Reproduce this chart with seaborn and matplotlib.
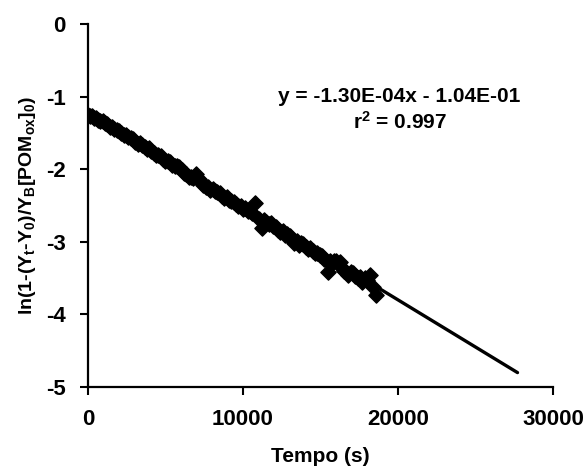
import matplotlib
matplotlib.use("Agg")
import matplotlib.pyplot as plt
import numpy as np
import pandas as pd
import seaborn as sns

# Kinetic data: time (s) vs ln(1-(Yt-Y0)/YB[POMox]0)
tempo = [0, 120, 250, 380, 500, 650, 800, 950, 1100, 1250, 1400, 1550,
         1700, 1850, 2000, 2150, 2300, 2450, 2600, 2750, 2900, 3050, 3200,
         3350, 3500, 3650, 3800, 3950, 4100, 4250, 4400, 4550, 4700, 4850,
         5000, 5150, 5300, 5450, 5600, 5750, 5900, 6050, 6200, 6350, 6500,
         6650, 6800, 7000, 7150, 7300, 7450, 7600, 7750, 7900, 8050, 8200,
         8350, 8500, 8650, 8800, 8950, 9100, 9250, 9400, 9550, 9700, 9850,
         10000, 10150, 10300, 10450, 10600, 10750, 11000, 11200, 11350,
         11500, 11650, 11800, 11950, 12100, 12250, 12400, 12550, 12700,
         12850, 13000, 13150, 13300, 13450, 13600, 13750, 13900, 14050,
         14200, 14350, 14500, 14650, 14800, 14950, 15100, 15250, 15450,
         15600, 15700, 15850, 16000, 16230, 16350, 16500, 16650, 16800,
         16950, 17100, 17250, 17400, 17550, 17700, 17850, 18000, 18160,
         18400, 18550]
ln_val = [-1.25, -1.26, -1.27, -1.29, -1.30, -1.32, -1.33, -1.34, -1.36,
          -1.38, -1.42, -1.42, -1.44, -1.46, -1.47, -1.50, -1.53, -1.53,
          -1.55, -1.57, -1.59, -1.62, -1.65, -1.64, -1.66, -1.69, -1.72,
          -1.71, -1.75, -1.78, -1.80, -1.80, -1.82, -1.86, -1.88, -1.88,
          -1.90, -1.94, -1.96, -1.95, -1.97, -2.01, -2.05, -2.07, -2.10,
          -2.10, -2.12, -2.06, -2.14, -2.17, -2.21, -2.25, -2.24, -2.28,
          -2.27, -2.30, -2.32, -2.33, -2.37, -2.40, -2.38, -2.42, -2.44,
          -2.45, -2.48, -2.50, -2.51, -2.55, -2.54, -2.58, -2.57, -2.60,
          -2.47, -2.68, -2.81, -2.70, -2.72, -2.76, -2.74, -2.78, -2.80,
          -2.83, -2.86, -2.85, -2.90, -2.89, -2.92, -2.96, -3.02, -2.99,
          -3.05, -3.02, -3.03, -3.07, -3.10, -3.09, -3.12, -3.15, -3.16,
          -3.18, -3.20, -3.24, -3.42, -3.27, -3.30, -3.26, -3.27, -3.28,
          -3.35, -3.40, -3.41, -3.45, -3.42, -3.43, -3.47, -3.50, -3.48,
          -3.55, -3.50, -3.52, -3.46, -3.62, -3.73]

# Linear trend line
slope = -1.30e-4
intercept = -1.20
fit_range = [0, 27700]
eq_text = "y = -1.30E-04x - 1.04E-01"
r2_text = r"r$^2$ = 0.997"

x_ticks = [0, 10000, 20000, 30000]
y_ticks = [0, -1, -2, -3, -4, -5]

sns.set_style("ticks")
plt.rcParams["font.family"] = ["Liberation Sans", "DejaVu Sans"]
plt.rcParams["font.weight"] = "bold"
plt.rcParams["text.color"] = "black"
plt.rcParams["axes.labelcolor"] = "black"
plt.rcParams["mathtext.fontset"] = "custom"
plt.rcParams["mathtext.rm"] = "Liberation Sans:bold"
plt.rcParams["mathtext.it"] = "Liberation Sans:bold"
plt.rcParams["mathtext.bf"] = "Liberation Sans:bold"

df = pd.DataFrame({"tempo": tempo, "ln": ln_val})
fit_x = np.array(fit_range, dtype=float)
fit_df = pd.DataFrame({"tempo": fit_x, "ln": intercept + slope * fit_x})

fig, ax = plt.subplots(figsize=(5.86, 4.72), dpi=100)
fig.subplots_adjust(left=0.150, right=0.944, top=0.949, bottom=0.180)

sns.scatterplot(data=df, x="tempo", y="ln", marker="D", s=60,
                color="black", edgecolor="black", linewidth=1.0, ax=ax,
                zorder=3)
sns.lineplot(data=fit_df, x="tempo", y="ln", color="black", linewidth=2.4,
             ax=ax, zorder=4)

ax.set_xlim(0, 30000)
ax.set_ylim(-5, 0)
ax.set_xticks(x_ticks)
ax.set_yticks(y_ticks)
ax.set_xticklabels([str(v) for v in x_ticks])
ax.set_yticklabels([str(v) for v in y_ticks])
ax.tick_params(axis="both", direction="out", length=6, width=1.5,
               labelsize=16, colors="black", pad=10)
for lbl in ax.get_xticklabels() + ax.get_yticklabels():
    lbl.set_fontweight("bold")

sns.despine(ax=ax)
for side in ("left", "bottom"):
    ax.spines[side].set_linewidth(1.6)
    ax.spines[side].set_color("black")

ax.set_xlabel("Tempo (s)", fontsize=15, fontweight="bold", labelpad=12)
ax.set_ylabel(r"ln(1-(Y$_t$-Y$_0$)/Y$_B$[POM$_{ox}$]$_0$)", fontsize=14,
              fontweight="bold", labelpad=6)

ax.text(20100, -1.0, eq_text, ha="center", va="center", fontsize=15,
        fontweight="bold")
ax.text(20100, -1.35, r2_text, ha="center", va="center", fontsize=15,
        fontweight="bold")

fig.savefig("out.png", dpi=100)
